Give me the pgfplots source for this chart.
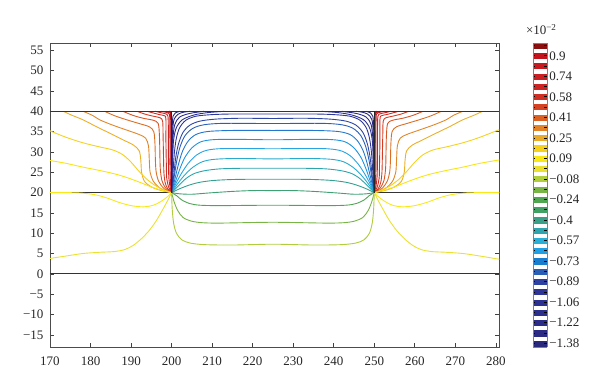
\documentclass[border=0pt]{standalone}
\usepackage{fontspec}
\setmainfont{Liberation Serif}
\usepackage{pgfplots}
\pgfplotsset{compat=1.18}
\definecolor{ccb0}{RGB}{38,38,120}
\definecolor{ccb1}{RGB}{40,40,130}
\definecolor{ccb2}{RGB}{42,44,138}
\definecolor{ccb3}{RGB}{44,48,145}
\definecolor{ccmA}{RGB}{45,55,150}
\definecolor{ccmB}{RGB}{45,70,165}
\definecolor{ccmC}{RGB}{42,95,185}
\definecolor{ccmD}{RGB}{35,120,205}
\definecolor{ccmE}{RGB}{30,148,222}
\definecolor{ccmF}{RGB}{40,165,225}
\definecolor{ccmG}{RGB}{42,170,205}
\definecolor{ccmH}{RGB}{45,165,175}
\definecolor{ccmI}{RGB}{52,160,145}
\definecolor{ccmJ}{RGB}{62,160,115}
\definecolor{ccmK}{RGB}{80,165,85}
\definecolor{ccmL}{RGB}{120,180,70}
\definecolor{ccmM}{RGB}{175,205,60}
\definecolor{cce4}{RGB}{235,225,50}
\definecolor{cce3}{RGB}{250,232,25}
\definecolor{cce2}{RGB}{250,228,20}
\definecolor{cce1}{RGB}{245,210,30}
\definecolor{cct1}{RGB}{235,175,40}
\definecolor{cct2}{RGB}{225,135,40}
\definecolor{cct3}{RGB}{220,110,35}
\definecolor{cct4}{RGB}{215,85,35}
\definecolor{cct5}{RGB}{210,62,35}
\definecolor{cct6}{RGB}{206,45,35}
\definecolor{cct7}{RGB}{204,35,35}
\definecolor{cct8}{RGB}{200,28,32}
\definecolor{cct9}{RGB}{192,22,28}
\definecolor{cct10}{RGB}{160,18,22}
\begin{document}
\begin{tikzpicture}
\path[use as bounding box] (-50pt,-42pt) rectangle (550pt,347pt);
\begin{axis}[
 at={(0pt,0pt)}, anchor=south west,
 width=449.3pt, height=303.7pt, scale only axis,
 xmin=170, xmax=280.85, ymin=-18, ymax=56.75,
 xtick={170,180,...,280},
 xticklabels={170,180,190,200,210,220,230,240,250,260,270,280},
 ytick={-15,-10,...,55},
 yticklabels={−15,−10,−5,0,5,10,15,20,25,30,35,40,45,50,55},
 tick align=inside, major tick length=4pt,
 tick style={color=black!75, line width=0.6pt},
 axis line style={color=black!70, line width=0.8pt},
 tick label style={font=\fontsize{13}{15}\selectfont, text=black!85},
 yticklabel style={xshift=-3pt},
 xticklabel style={yshift=-6pt},
 point meta min=-1.41, point meta max=1.0,
 colormap={cbar}{
  rgb255(0pt)=(40,40,125) rgb255(5.4pt)=(255,255,255)
  rgb255(8.7pt)=(42,42,130) rgb255(13.6pt)=(255,255,255)
  rgb255(16.8pt)=(42,44,135) rgb255(21.7pt)=(255,255,255)
  rgb255(25.0pt)=(44,46,140) rgb255(29.9pt)=(255,255,255)
  rgb255(33.1pt)=(44,48,145) rgb255(38.0pt)=(255,255,255)
  rgb255(41.3pt)=(45,52,150) rgb255(46.2pt)=(255,255,255)
  rgb255(49.4pt)=(45,65,160) rgb255(54.3pt)=(255,255,255)
  rgb255(57.6pt)=(40,95,180) rgb255(62.5pt)=(255,255,255)
  rgb255(65.7pt)=(25,125,205) rgb255(70.6pt)=(255,255,255)
  rgb255(73.9pt)=(30,160,230) rgb255(78.8pt)=(255,255,255)
  rgb255(82.0pt)=(40,175,215) rgb255(86.9pt)=(255,255,255)
  rgb255(90.1pt)=(45,165,175) rgb255(95.0pt)=(255,255,255)
  rgb255(98.3pt)=(55,160,135) rgb255(103.2pt)=(255,255,255)
  rgb255(106.4pt)=(65,160,100) rgb255(111.3pt)=(255,255,255)
  rgb255(114.6pt)=(80,165,80) rgb255(119.5pt)=(255,255,255)
  rgb255(122.7pt)=(120,180,70) rgb255(127.6pt)=(255,255,255)
  rgb255(130.9pt)=(175,205,60) rgb255(135.8pt)=(255,255,255)
  rgb255(139.0pt)=(235,225,45) rgb255(143.9pt)=(255,255,255)
  rgb255(147.2pt)=(250,232,20) rgb255(152.1pt)=(255,255,255)
  rgb255(155.3pt)=(245,210,25) rgb255(160.2pt)=(255,255,255)
  rgb255(163.5pt)=(232,170,40) rgb255(168.4pt)=(255,255,255)
  rgb255(171.6pt)=(225,130,40) rgb255(176.5pt)=(255,255,255)
  rgb255(179.7pt)=(218,95,35) rgb255(184.6pt)=(255,255,255)
  rgb255(187.9pt)=(212,65,35) rgb255(192.8pt)=(255,255,255)
  rgb255(196.0pt)=(208,45,35) rgb255(200.9pt)=(255,255,255)
  rgb255(204.2pt)=(205,35,35) rgb255(209.1pt)=(255,255,255)
  rgb255(212.3pt)=(203,30,35) rgb255(217.2pt)=(255,255,255)
  rgb255(220.5pt)=(200,25,32) rgb255(225.4pt)=(255,255,255)
  rgb255(228.6pt)=(195,20,30) rgb255(233.5pt)=(255,255,255)
  rgb255(236.8pt)=(140,15,15) rgb255(241.0pt)=(140,15,15)
 },
 colormap access=piecewise constant,
 colorbar,
 colorbar style={
  at={(parent axis.north east)}, anchor=north west, xshift=25pt,
  width=14pt,
  ytick={-1.38,-1.2171,-1.0542,-0.8913,-0.7284,-0.5655,-0.4026,-0.2397,-0.0768,0.0861,0.249,0.4119,0.5748,0.7377,0.9006},
  yticklabels={−1.38,−1.22,−1.06,−0.89,−0.73,−0.57,−0.4,−0.24,−0.08,0.09,0.25,0.41,0.58,0.74,0.9},
  minor ytick={-1.2986,-1.1357,-0.9728,-0.8099,-0.647,-0.4841,-0.3212,-0.1583,0.0046,0.1675,0.3304,0.4933,0.6562,0.8191,0.982},
  ytick pos=both, yticklabel pos=right,
  tick align=inside, major tick length=2.5pt, minor tick length=2.5pt,
  tick style={black, line width=0.8pt},
  axis line style={gray, line width=0.6pt},
  yticklabel style={font=\fontsize{13}{15}\selectfont, text=black!85, xshift=-1pt},
 },
 every axis plot/.append style={line width=0.9pt, mark=none},
]
% boundaries
\addplot[black!80, line width=1pt] coordinates {(170,20) (200,20)};
\addplot[black!80, line width=1pt] coordinates {(250,20) (280.85,20)};

% middle lines
\addplot[ccmA, smooth, tension=0.5] coordinates {(200,20) (200.35,25) (200.7,30) (201.2,33.5) (202,36) (203.5,37.8) (206,38.8) (210,39.2) (215,39.35) (225,39.35) (235,39.35) (240,39.2) (244,38.8) (246.5,37.8) (248,36) (248.8,33.5) (249.3,30) (249.65,25) (250,20)};
\addplot[ccmB, smooth, tension=0.5] coordinates {(200,20) (200.5,24) (201,28.5) (201.7,32) (202.8,34.8) (204.5,36.6) (207,37.6) (211,38.1) (217,38.3) (225,38.25) (233,38.3) (239,38.1) (243,37.6) (245.5,36.6) (247.2,34.8) (248.3,32) (249,28.5) (249.5,24) (250,20)};
\addplot[ccmC, smooth, tension=0.5] coordinates {(200,20) (200.65,24) (201.3,28) (202.1,31.3) (203.3,34) (205.2,35.8) (208,36.7) (213,37.05) (225,37.0) (237,37.05) (242,36.7) (244.8,35.8) (246.7,34) (247.9,31.3) (248.7,28) (249.35,24) (250,20)};
\addplot[ccmD, smooth, tension=0.5] coordinates {(200,20) (200.85,23.5) (201.7,27) (202.7,30.2) (204.1,32.7) (206,34.3) (209,35.05) (215,35.3) (225,35.3) (235,35.3) (241,35.05) (244,34.3) (245.9,32.7) (247.3,30.2) (248.3,27) (249.15,23.5) (250,20)};
\addplot[ccmE, smooth, tension=0.5] coordinates {(200,20) (201.05,23) (202.1,26) (203.3,28.7) (205,31) (207.2,32.5) (210.5,33.05) (217,33.1) (225,33.0) (233,33.1) (239.5,33.05) (242.8,32.5) (245,31) (246.7,28.7) (247.9,26) (248.95,23) (250,20)};
\addplot[ccmF, smooth, tension=0.5] coordinates {(200,20) (201.25,22.6) (202.6,25) (204.1,27.2) (206.1,29.2) (208.6,30.4) (213,30.85) (225,30.8) (237,30.85) (241.4,30.4) (243.9,29.2) (245.9,27.2) (247.4,25) (248.75,22.6) (250,20)};
\addplot[ccmG, smooth, tension=0.5] coordinates {(200,20) (201.5,22.2) (203.2,24.3) (205.2,26.2) (207.6,27.6) (210.6,28.2) (216,28.4) (225,28.3) (234,28.4) (239.4,28.2) (242.4,27.6) (244.8,26.2) (246.8,24.3) (248.5,22.2) (250,20)};
\addplot[ccmH, smooth, tension=0.5] coordinates {(200,20) (201.8,21.8) (203.6,23.5) (205.6,24.7) (208.2,25.4) (212,25.85) (218,26.0) (225,26.0) (232,26.0) (238,25.85) (241.8,25.4) (244.4,24.7) (246.4,23.5) (248.2,21.8) (250,20)};
\addplot[ccmI, smooth, tension=0.5] coordinates {(200,20) (202.1,21.0) (204.5,21.9) (207,22.55) (210.5,23.0) (216,23.25) (225,23.3) (234,23.25) (239.5,23.0) (243,22.55) (245.5,21.9) (247.9,21.0) (250,20)};
\addplot[ccmJ, smooth, tension=0.5] coordinates {(200,20) (202,19.7) (205,19.6) (209,19.9) (215,20.3) (220,20.5) (225,20.5) (230,20.5) (235,20.3) (241,19.9) (245,19.6) (248,19.7) (250,20)};
\addplot[ccmK, smooth, tension=0.5] coordinates {(200,20) (201.3,19.2) (202.5,18.2) (204.5,17.3) (207,16.9) (212,16.8) (225,16.9) (238,16.8) (243,16.9) (245.5,17.3) (247.5,18.2) (248.7,19.2) (250,20)};
\addplot[ccmL, smooth, tension=0.5] coordinates {(200,20) (200.6,17.8) (201.5,15.6) (202.8,13.9) (204.8,13.0) (207.5,12.6) (212,12.5) (225,12.7) (238,12.5) (242.5,12.6) (245.2,13.0) (247.2,13.9) (248.5,15.6) (249.4,17.8) (250,20)};
\addplot[ccmM, smooth, tension=0.5] coordinates {(200,20) (200.15,16) (200.5,12.5) (201.2,10) (202.5,8.4) (204.5,7.6) (208,7.2) (215,7.1) (225,7.3) (235,7.1) (242,7.2) (245.5,7.6) (247.5,8.4) (248.8,10) (249.5,12.5) (249.85,16) (250,20)};

% inner top arcs
\addplot[ccb0, smooth, tension=0.5] coordinates {(200,20) (200.08,30) (200.15,36) (200.35,38.8) (200.9,39.6) (202,40)};
\addplot[ccb1, smooth, tension=0.5] coordinates {(200,20) (200.12,29) (200.25,35) (200.6,38) (201.6,39.3) (203,39.8) (204.5,40)};
\addplot[ccb2, smooth, tension=0.5] coordinates {(200,20) (200.18,28) (200.35,33.5) (200.8,36.8) (202,38.6) (204.5,39.5) (208,40)};
\addplot[ccb3, smooth, tension=0.5] coordinates {(200,20) (200.22,27) (200.45,32.5) (201.1,35.8) (202.6,37.9) (205.5,39.1) (209,39.7) (213,40)};
\addplot[ccb0, smooth, tension=0.5] coordinates {(250,20) (249.92,30) (249.85,36) (249.65,38.8) (249.1,39.6) (248,40)};
\addplot[ccb1, smooth, tension=0.5] coordinates {(250,20) (249.88,29) (249.75,35) (249.4,38) (248.4,39.3) (247,39.8) (245.5,40)};
\addplot[ccb2, smooth, tension=0.5] coordinates {(250,20) (249.82,28) (249.65,33.5) (249.2,36.8) (248,38.6) (245.5,39.5) (242,40)};
\addplot[ccb3, smooth, tension=0.5] coordinates {(250,20) (249.78,27) (249.55,32.5) (248.9,35.8) (247.4,37.9) (244.5,39.1) (241,39.7) (237,40)};

% outer lines from the top edge, left
\addplot[cct1, smooth, tension=0.5] coordinates {(173.3,40) (175.5,39) (178.2,37.9) (181.5,36.2) (184.8,34.6) (188,33) (190.6,31.7) (192,30.3) (192.4,28) (192.6,25) (193.3,22.8) (195,21.4) (197.5,20.5) (200,20)};
\addplot[cct2, smooth, tension=0.5] coordinates {(178.2,40) (180.5,39) (182.3,37.9) (185.5,36.6) (188.9,35.4) (192,34.3) (193.6,33.4) (194.3,31.5) (194.5,28) (194.7,25) (195.5,22.8) (197,21.2) (198.6,20.4) (200,20)};
\addplot[cct3, smooth, tension=0.5] coordinates {(183.5,40) (186,38.9) (189,37.9) (192,37) (194.5,36.2) (195.6,35) (195.9,32) (196,28) (196.2,25) (196.8,22.8) (197.9,21.2) (199,20.4) (200,20)};
\addplot[cct4, smooth, tension=0.5] coordinates {(188,40) (190.5,39) (193,38.3) (195.5,37.8) (196.7,37) (197,34) (197.1,30) (197.2,26) (197.6,23) (198.4,21.3) (199.2,20.5) (200,20)};
\addplot[cct5, smooth, tension=0.5] coordinates {(191.5,40) (193.5,39.3) (195.5,38.8) (197.2,38.4) (197.8,37.5) (197.9,34) (198,29) (198.1,25) (198.4,22.5) (199,21) (200,20)};
\addplot[cct6, smooth, tension=0.5] coordinates {(194,40) (195.5,39.6) (197,39.2) (198.3,38.9) (198.6,38) (198.6,33) (198.7,27) (198.8,23.5) (199.3,21.3) (200,20)};
\addplot[cct7, smooth, tension=0.5] coordinates {(196,40) (197.2,39.7) (198.5,39.4) (199.1,38.8) (199.2,35) (199.2,29) (199.3,24) (199.6,21.5) (200,20)};
\addplot[cct8, smooth, tension=0.5] coordinates {(197.5,40) (198.5,39.8) (199.4,39.4) (199.55,38) (199.6,32) (199.6,26) (199.75,22) (200,20)};
\addplot[cct9, smooth, tension=0.5] coordinates {(198.6,40) (199.4,39.7) (199.75,39) (199.8,33) (199.85,26) (200,20)};
\addplot[cct10, smooth, tension=0.5] coordinates {(199.4,40) (199.85,39.5) (199.92,35) (199.95,28) (200,20)};
% outer lines from the top edge, right
\addplot[cct1, smooth, tension=0.5] coordinates {(276.7,40) (274.5,39) (271.8,37.9) (268.5,36.2) (265.2,34.6) (262,33) (259.4,31.7) (258,30.3) (257.6,28) (257.4,25) (256.7,22.8) (255,21.4) (252.5,20.5) (250,20)};
\addplot[cct2, smooth, tension=0.5] coordinates {(271.8,40) (269.5,39) (267.7,37.9) (264.5,36.6) (261.1,35.4) (258,34.3) (256.4,33.4) (255.7,31.5) (255.5,28) (255.3,25) (254.5,22.8) (253,21.2) (251.4,20.4) (250,20)};
\addplot[cct3, smooth, tension=0.5] coordinates {(266.5,40) (264,38.9) (261,37.9) (258,37) (255.5,36.2) (254.4,35) (254.1,32) (254,28) (253.8,25) (253.2,22.8) (252.1,21.2) (251,20.4) (250,20)};
\addplot[cct4, smooth, tension=0.5] coordinates {(262,40) (259.5,39) (257,38.3) (254.5,37.8) (253.3,37) (253,34) (252.9,30) (252.8,26) (252.4,23) (251.6,21.3) (250.8,20.5) (250,20)};
\addplot[cct5, smooth, tension=0.5] coordinates {(258.5,40) (256.5,39.3) (254.5,38.8) (252.8,38.4) (252.2,37.5) (252.1,34) (252,29) (251.9,25) (251.6,22.5) (251,21) (250,20)};
\addplot[cct6, smooth, tension=0.5] coordinates {(256,40) (254.5,39.6) (253,39.2) (251.7,38.9) (251.4,38) (251.4,33) (251.3,27) (251.2,23.5) (250.7,21.3) (250,20)};
\addplot[cct7, smooth, tension=0.5] coordinates {(254,40) (252.8,39.7) (251.5,39.4) (250.9,38.8) (250.8,35) (250.8,29) (250.7,24) (250.4,21.5) (250,20)};
\addplot[cct8, smooth, tension=0.5] coordinates {(252.5,40) (251.5,39.8) (250.6,39.4) (250.45,38) (250.4,32) (250.4,26) (250.25,22) (250,20)};
\addplot[cct9, smooth, tension=0.5] coordinates {(251.4,40) (250.6,39.7) (250.25,39) (250.2,33) (250.15,26) (250,20)};
\addplot[cct10, smooth, tension=0.5] coordinates {(250.6,40) (250.15,39.5) (250.08,35) (250.05,28) (250,20)};

% outer lines from the side edges
\addplot[cce1, smooth, tension=0.5] coordinates {(170,35.2) (174,33.6) (178,32.3) (182,31.3) (185.5,30.5) (188,29.3) (190,27.5) (192,25.2) (194,23.2) (196.2,21.6) (198.3,20.6) (200,20)};
\addplot[cce2, smooth, tension=0.5] coordinates {(170,27.9) (174,27.2) (178,26.3) (182,25.5) (186,24.6) (189,23.7) (192,22.6) (195,21.4) (197.5,20.6) (200,20)};
\addplot[cce3, smooth, tension=0.5] coordinates {(170,20) (174,20) (177.5,19.9) (181,19.5) (184,18.7) (187,17.6) (190,16.8) (193,16.5) (195.5,16.9) (197.5,17.9) (199,19) (200,20)};
\addplot[cce4, smooth, tension=0.5] coordinates {(170,3.8) (174,4.4) (178,5.0) (182,5.3) (186,5.5) (188.5,6.0) (190.5,7.0) (192.5,8.6) (194.5,10.7) (196.3,13.2) (197.8,15.8) (199,18) (200,20)};
\addplot[cce1, smooth, tension=0.5] coordinates {(280.85,35.5) (276,33.6) (272,32.3) (268,31.3) (264.5,30.5) (262,29.3) (260,27.5) (258,25.2) (256,23.2) (253.8,21.6) (251.7,20.6) (250,20)};
\addplot[cce2, smooth, tension=0.5] coordinates {(280.85,28.05) (276,27.2) (272,26.3) (268,25.5) (264,24.6) (261,23.7) (258,22.6) (255,21.4) (252.5,20.6) (250,20)};
\addplot[cce3, smooth, tension=0.5] coordinates {(280.85,20) (276,20) (272.5,19.9) (269,19.5) (266,18.7) (263,17.6) (260,16.8) (257,16.5) (254.5,16.9) (252.5,17.9) (251,19) (250,20)};
\addplot[cce4, smooth, tension=0.5] coordinates {(280.85,3.6) (276,4.4) (272,5.0) (268,5.3) (264,5.5) (261.5,6.0) (259.5,7.0) (257.5,8.6) (255.5,10.7) (253.7,13.2) (252.2,15.8) (251,18) (250,20)};

% boundaries on top
\addplot[black!80, line width=1pt] coordinates {(170,40) (280.85,40)};
\addplot[black!80, line width=1pt] coordinates {(170,0) (280.85,0)};
\addplot[black!85, line width=1pt] coordinates {(200,20) (200,40)};
\addplot[black!85, line width=1pt] coordinates {(250,20) (250,40)};
\end{axis}
\node[anchor=base west, inner sep=0pt, text=black!85, font=\fontsize{13}{15}\selectfont] at (475.8pt,312.2pt) {×10\textsuperscript{−2}};
\end{tikzpicture}
\end{document}
